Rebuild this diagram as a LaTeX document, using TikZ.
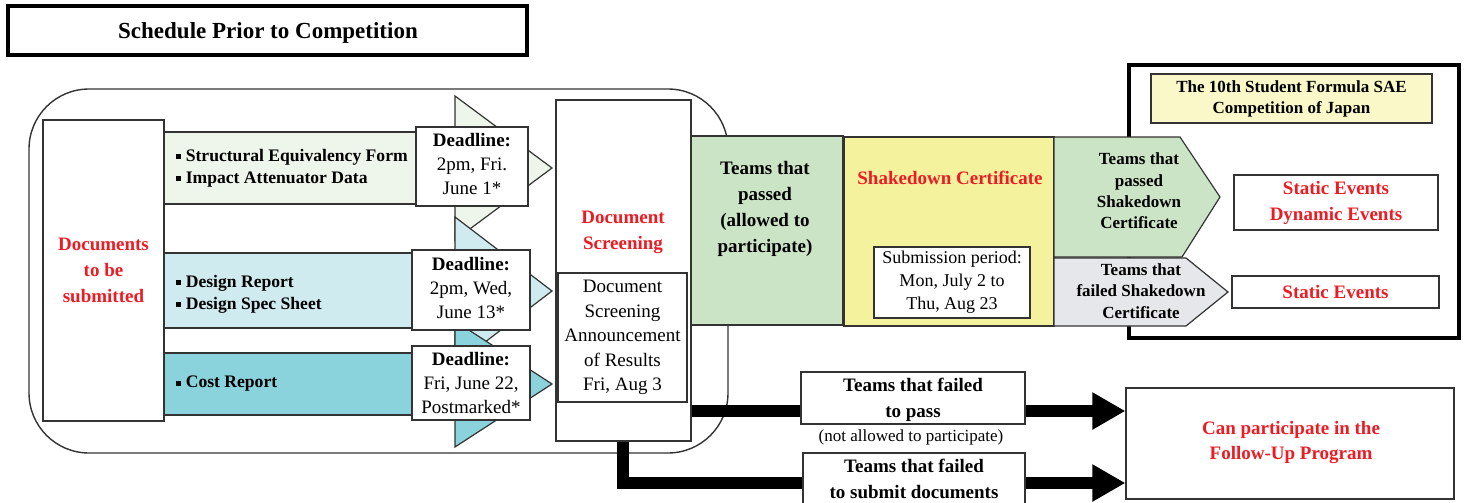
\documentclass[tikz,border=0pt]{standalone}
\usepackage{fontspec}
\setmainfont{Liberation Serif}
\usetikzlibrary{fit,arrows.meta,calc}
\definecolor{lc}{HTML}{333333}
\definecolor{rd}{HTML}{ED1C24}
\definecolor{bandA}{HTML}{EEF5EA}
\definecolor{bandB}{HTML}{CFEBF0}
\definecolor{bandC}{HTML}{8AD3DD}
\definecolor{passg}{HTML}{CCE4C6}
\definecolor{shy}{HTML}{F5F29E}
\definecolor{grayc}{HTML}{E6E7EA}
\definecolor{ty}{HTML}{FAF8C8}
\newcommand\sqb{\raisebox{0.3ex}{\rule{2.2pt}{2.2pt}}\hspace{2.5pt}}
\begin{document}
\begin{tikzpicture}[x=0.5pt,y=-0.5pt,
  box/.style={draw=lc, line width=0.6pt, inner sep=0pt, align=center},
  bfa/.style={font=\fontsize{9.5}{12.5}\selectfont\bfseries, align=center, inner sep=0pt},
  bfb/.style={font=\fontsize{8.5}{10.7}\selectfont\bfseries, align=center, inner sep=0pt},
  rma/.style={font=\fontsize{9.5}{12}\selectfont, align=center, inner sep=0pt},
  redt/.style={bfa, text=rd},
  conn/.style={line width=6pt, draw=black},
  arr/.style={line width=6pt, draw=black, -{Triangle[length=16.5pt,width=17.5pt]}},
  tri/.style={draw=lc, line width=0.6pt}]
\useasboundingbox (0,0) rectangle (1464,503);

% title
\node[draw=black, line width=2pt, inner sep=0pt, fit={(8,6)(527,55)}] (titlebox) {};
\node[font=\fontsize{11.5}{13}\selectfont\bfseries] (title) at (268,33) {Schedule Prior to Competition};

% rounded frame
\draw[lc, line width=0.7pt, rounded corners=30pt] (29,89) rectangle (728,453);

% bands
\node[box, fill=bandA, fit={(164,132)(420,204)}] (band1) {};
\node[box, fill=bandB, fit={(164,253)(420,328)}] (band2) {};
\node[box, fill=bandC, fit={(164,353)(420,415)}] (band3) {};

% arrow triangles
\filldraw[tri, fill=bandA] (455,96) -- (552,168) -- (455,240) -- cycle;
\filldraw[tri, fill=bandB] (455,217) -- (552,291) -- (455,365) -- cycle;
\filldraw[tri, fill=bandC] (455,321) -- (552,384) -- (455,447) -- cycle;

% band texts
\node[bfb, anchor=west, align=left, font=\fontsize{8.8}{11}\selectfont\bfseries] (t1) at (176,168)
  {\sqb Structural Equivalency Form\\\sqb Impact Attenuator Data};
\node[bfb, anchor=west, align=left, font=\fontsize{8.8}{11}\selectfont\bfseries] (t2) at (176,294)
  {\sqb Design Report\\\sqb Design Spec Sheet};
\node[bfb, anchor=west, align=left, font=\fontsize{8.8}{11}\selectfont\bfseries] (t3) at (176,384) {\sqb Cost Report};

% deadline boxes
\node[box, fill=white, fit={(416,127)(528,206)}] (dl1) {};
\node[rma] (dl1t) at (472,164) {\textbf{Deadline:}\\2pm, Fri.\\June 1*};
\node[box, fill=white, fit={(412,250)(530,330)}] (dl2) {};
\node[rma] (dl2t) at (471,288) {\textbf{Deadline:}\\2pm, Wed,\\June 13*};
\node[box, fill=white, fit={(412,346)(530,420)}] (dl3) {};
\node[rma] (dl3t) at (471,383) {\textbf{Deadline:}\\Fri, June 22,\\Postmarked*};

% documents
\node[box, fill=white, fit={(43,120)(164,421)}] (docs) {};
\node[redt, font=\fontsize{9.5}{13}\selectfont\bfseries] (docst) at (docs.center) {Documents\\to be\\submitted};

% screening
\node[box, fill=white, fit={(556,100)(691,441)}] (screen) {};
\node[redt, font=\fontsize{9.5}{13}\selectfont\bfseries] (screent) at (623,232) {Document\\Screening};
\node[box, fill=white, fit={(558,273)(687,402)}] (ann) {};
\node[rma, font=\fontsize{9.5}{12.3}\selectfont] (annt) at (ann.center) {Document\\Screening\\Announcement\\of Results\\Fri, Aug 3};

% passed
\node[box, fill=passg, fit={(691,136)(843,325)}] (passed) {};
\node[bfa, font=\fontsize{9.5}{13}\selectfont\bfseries] (passedt) at (765,209) {Teams that\\passed\\(allowed to\\participate)};

% outer competition box
\node[draw=black, line width=2pt, inner sep=0pt, fit={(1129,65)(1459,338)}] (comp) {};
\node[box, fill=ty, fit={(1151,74)(1432,123)}] (comptitle) {};
\node[bfb, font=\fontsize{8.5}{10.5}\selectfont\bfseries] (comptitlet) at (comptitle.center) {The 10th Student Formula SAE\\Competition of Japan};

% shakedown
\node[box, fill=shy, fit={(844,137)(1054,326)}] (shake) {};
\node[redt] (shaket) at (950,178) {Shakedown Certificate};
\node[box, fill=white, fit={(874,247)(1030,318)}] (subm) {};
\node[rma, font=\fontsize{9}{11.5}\selectfont] (submt) at (subm.center) {Submission period:\\Mon, July 2 to\\Thu, Aug 23};

% chevrons
\filldraw[tri, fill=passg] (1054,137) -- (1180,137) -- (1220,197) -- (1182,257) -- (1054,257) -- cycle;
\node[bfb] (chevp) at (1139,191) {Teams that\\passed\\Shakedown\\Certificate};
\filldraw[tri, fill=grayc] (1054,258) -- (1186,258) -- (1228,292) -- (1186,326) -- (1054,326) -- cycle;
\node[bfb] (chevf) at (1141,291) {Teams that\\failed Shakedown\\Certificate};

% events
\node[box, fill=white, fit={(1234,175)(1438,230)}] (ev1) {};
\node[redt, font=\fontsize{9.5}{13}\selectfont\bfseries] (ev1t) at (ev1.center) {Static Events\\Dynamic Events};
\node[box, fill=white, fit={(1232,276)(1439,308)}] (ev2) {};
\node[redt] (ev2t) at (ev2.center) {Static Events};

% failed boxes
\node[box, fill=white, fit={(801,372)(1025,424)}] (fail1) {};
\node[bfa, font=\fontsize{9.5}{13}\selectfont\bfseries] (fail1t) at (913,400) {Teams that failed\\to pass};
\node[rma, font=\fontsize{8.5}{10}\selectfont] (notallowed) at (911,437) {(not allowed to participate)};
\node[box, fill=white, fit={(803,453)(1025,513)}] (fail2) {};
\node[bfa, font=\fontsize{9.5}{13}\selectfont\bfseries] (fail2t) at (914,479) {Teams that failed\\to submit documents};

% follow-up
\node[box, fill=white, fit={(1126,388)(1454,499)}] (follow) {};
\node[redt, font=\fontsize{9.5}{12.5}\selectfont\bfseries] (followt) at (1291,443) {Can participate in the\\Follow-Up Program};

% connectors
\coordinate (c1) at (700,411);
\coordinate (c2) at (623,460);
\draw[conn] (screen.east |- c1) -- (fail1.west |- c1);
\draw[conn] (screen.south -| c2) |- (fail2.west);
\draw[arr] (fail1.east |- c1) -- (follow.west |- c1);
\draw[arr] (fail2.east) -- (follow.west |- fail2.east);
\end{tikzpicture}
\end{document}
